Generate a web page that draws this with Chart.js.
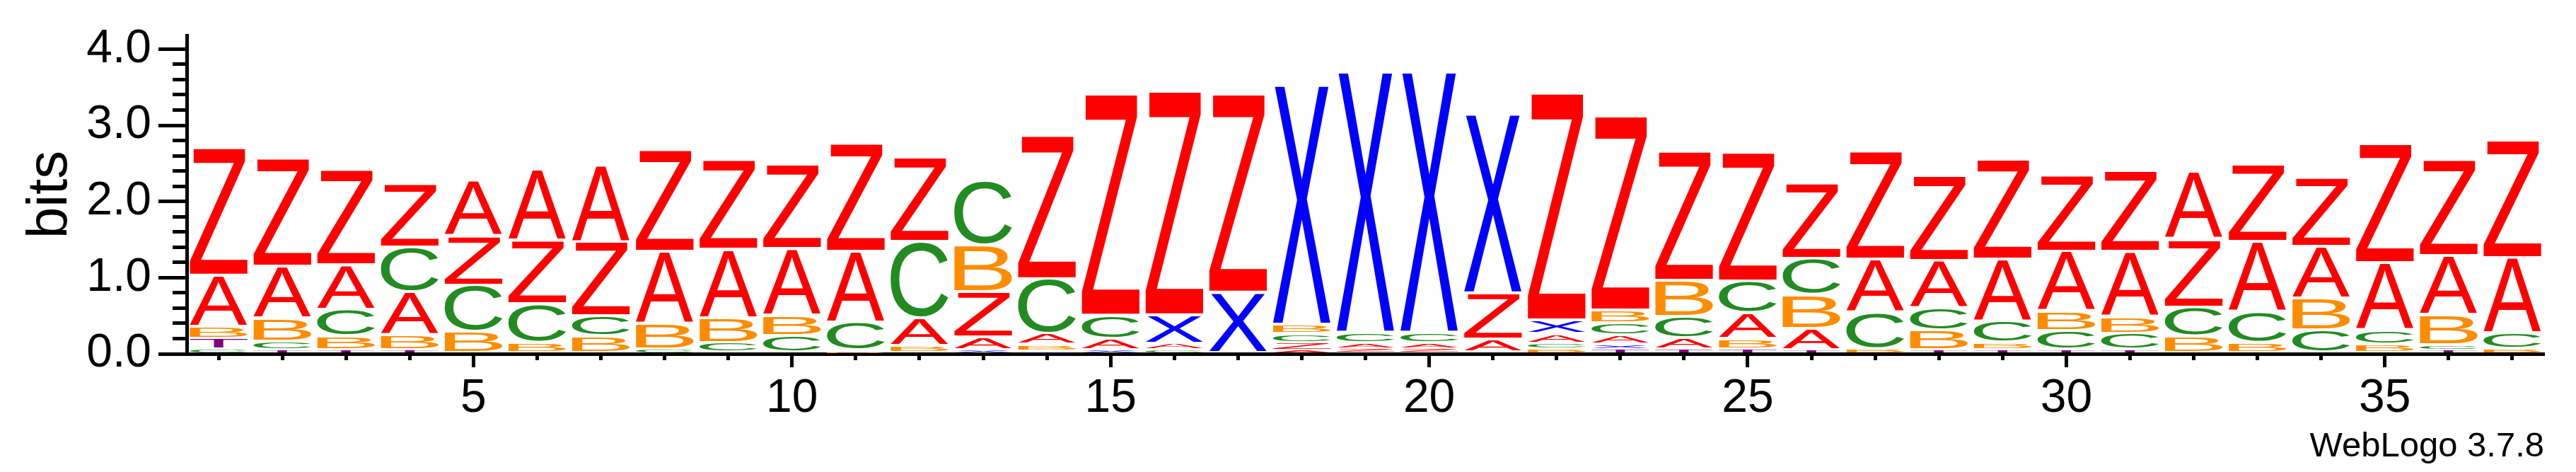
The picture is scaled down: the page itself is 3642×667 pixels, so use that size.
<!DOCTYPE html>
<html><head><meta charset="utf-8">
<script src="https://cdn.jsdelivr.net/npm/chart.js@4.4.1/dist/chart.umd.min.js"></script>
<style>html,body{margin:0;padding:0;background:#fff;}canvas{display:block;}</style>
</head><body>
<canvas id="c" width="3642" height="667"></canvas>
<script>
// ---- data (bits per letter at each position) ----
const positions = [1,2,3,4,5,6,7,8,9,10,11,12,13,14,15,16,17,18,19,20,21,22,23,24,25,26,27,28,29,30,31,32,33,34,35,36,37];
const letterA = [0.674,0.681,0.587,0.564,0.728,0.935,1.007,0.944,0.904,0.879,0.935,0.359,0.164,0.138,0.140,0.084,0,0.033,0.070,0.070,0.173,0.124,0.114,0.145,0.334,0.278,0.699,0.619,0.813,0.786,0.857,0.892,0.918,0.689,0.888,0.774,0.990];
const letterB = [0.150,0.303,0.177,0.195,0.278,0.133,0.220,0.331,0.319,0.257,0.030,0.093,0.613,0.079,0,0,0,0.125,0,0,0,0.054,0.167,0.476,0.136,0.443,0.050,0.257,0.093,0.255,0.220,0.217,0.133,0.412,0.108,0.393,0.050];
const letterC = [0.050,0.110,0.350,0.588,0.608,0.505,0.263,0.050,0.133,0.226,0.360,1.002,0.848,0.721,0.309,0.040,0,0.114,0.133,0.133,0,0.070,0.164,0.276,0.418,0.477,0.476,0.291,0.279,0.250,0.214,0.381,0.403,0.294,0.180,0.060,0.207];
const letterT = [0.140,0.039,0.040,0.040,0,0,0,0,0,0,0,0,0,0,0,0,0,0,0,0,0,0,0.052,0.050,0.050,0.040,0,0.040,0.040,0.040,0.040,0,0,0,0,0.042,0];
const letterX = [0,0,0,0,0,0,0,0,0,0,0,0,0.040,0.030,0.040,0.371,0.792,3.141,3.423,3.423,2.349,0.179,0.060,0,0,0,0,0,0,0,0,0,0,0,0,0,0];
const letterZ = [1.678,1.414,1.251,0.835,0.639,0.832,0.971,1.331,1.176,1.108,1.423,1.106,0.594,1.885,2.909,2.940,2.606,0.100,0.063,0.063,0.610,2.984,2.553,1.699,1.693,0.990,1.415,1.124,1.307,1.000,1.062,0.887,1.007,0.901,1.557,1.259,1.548];
const xTickLabels = [5,10,15,20,25,30,35];
const yTickLabels = ['0.0','1.0','2.0','3.0','4.0'];

const alphabet = ['A','B','C','T','X','Z'];
const heights = {A:letterA, B:letterB, C:letterC, T:letterT, X:letterX, Z:letterZ};
const colors = {A:'#ff0000', Z:'#ff0000', B:'#ff8c00', C:'#228b22', X:'#0000ff', T:'#800080'};

// order letters in each column from smallest (bottom) to largest (top)
const order = positions.map((p, i) => alphabet.filter(l => heights[l][i] > 0)
  .sort((a, b) => heights[a][i] - heights[b][i]));
const datasets = [];
for (let r = 0; r < alphabet.length; r++) {
  datasets.push({
    data: order.map((o, i) => o[r] ? heights[o[r]][i] : 0),
    letters: order.map(o => o[r] || null),
    backgroundColor: 'rgba(0,0,0,0)', borderWidth: 0,
    barPercentage: 0.905, categoryPercentage: 1,
    xAxisID: 'x', yAxisID: 'y'
  });
}

Chart.defaults.font.family = "'Liberation Sans', Arial, sans-serif";
Chart.defaults.color = '#000';

function drawGlyph(ctx, L, x0, top, w, h, color) {
  ctx.save();
  ctx.font = '200px "Liberation Sans", Arial, sans-serif';
  ctx.textAlign = 'left';
  ctx.textBaseline = 'alphabetic';
  const m = ctx.measureText(L);
  const gl = m.actualBoundingBoxLeft, gr = m.actualBoundingBoxRight;
  const ga = m.actualBoundingBoxAscent, gd = m.actualBoundingBoxDescent;
  ctx.translate(x0, top + h);
  ctx.scale(w / (gl + gr), h / (ga + gd));
  ctx.fillStyle = color;
  ctx.fillText(L, gl, -gd);
  ctx.restore();
}

const letterPlugin = {
  id: 'letters',
  afterDatasetsDraw(chart) {
    const ctx = chart.ctx;
    chart.data.datasets.forEach((ds, di) => {
      const meta = chart.getDatasetMeta(di);
      meta.data.forEach((bar, i) => {
        const L = ds.letters[i];
        if (!L) return;
        const p = bar.getProps(['x', 'y', 'base', 'width'], true);
        const h = p.base - p.y;
        if (h <= 0.5) return;
        const gap = Math.min(4, 0.35 * h);
        drawGlyph(ctx, L, p.x - p.width / 2, p.y, p.width, h - gap, colors[L]);
      });
    });
  }
};

new Chart(document.getElementById('c'), {
  type: 'bar',
  data: { labels: positions.map(String), datasets },
  plugins: [letterPlugin],
  options: {
    responsive: false, animation: false, devicePixelRatio: 1, events: [],
    layout: { padding: { top: 50, right: 45, bottom: 6.6, left: 0 } },
    plugins: {
      legend: { display: false }, tooltip: { enabled: false },
      title: { display: true, text: 'WebLogo 3.7.8', position: 'bottom', align: 'end',
        color: '#000', font: { size: 49, weight: 'normal' }, padding: 0 }
    },
    scales: {
      x: { type: 'category', stacked: true, offset: true, weight: 0, position: 'bottom',
        grid: { offset: false, drawOnChartArea: false, drawTicks: true, tickLength: 9, tickWidth: 5, tickColor: '#000' },
        border: { display: true, width: 5, color: '#000' },
        ticks: { display: false },
        afterFit(s) { s.height = 0; } },
      x2: { type: 'category', offset: true, weight: 1, position: 'bottom',
        grid: { offset: false, drawOnChartArea: false, drawTicks: true, tickLength: 19, tickWidth: 5,
          tickColor: c => xTickLabels.includes(positions[c.index]) ? '#000' : 'rgba(0,0,0,0)' },
        border: { display: true, width: 5, color: '#000' },
        ticks: { autoSkip: false, maxRotation: 0, minRotation: 0, padding: 5.4, font: { size: 66 }, color: '#000',
          callback: (v, i) => xTickLabels.includes(positions[i]) ? String(positions[i]) : '' },
        afterFit(s) { s.height = 101.6; } },
      y: { stacked: true, min: 0, max: 4.18, position: 'left', weight: 1,
        grid: { drawOnChartArea: false, drawTicks: true, tickLength: 40, tickWidth: 5, tickColor: '#000' },
        border: { display: true, width: 5, color: '#000' },
        ticks: { stepSize: 1, includeBounds: false, padding: 10, font: { size: 66 }, color: '#000',
          callback: v => yTickLabels[Math.round(v)] ?? '' },
        title: { display: true, text: 'bits', color: '#000', font: { size: 80 }, padding: { top: 23.5, bottom: 0 } },
        afterFit(s) { s.width = 264; } },
      y2: { min: 0, max: 4.18, position: 'left', weight: 0,
        grid: { drawOnChartArea: false, drawTicks: true, tickLength: 20, tickWidth: 5, tickColor: '#000' },
        border: { display: true, width: 5, color: '#000' },
        ticks: { display: false, stepSize: 0.2, includeBounds: false },
        afterFit(s) { s.width = 0; } }
    }
  }
});
</script>
</body></html>
